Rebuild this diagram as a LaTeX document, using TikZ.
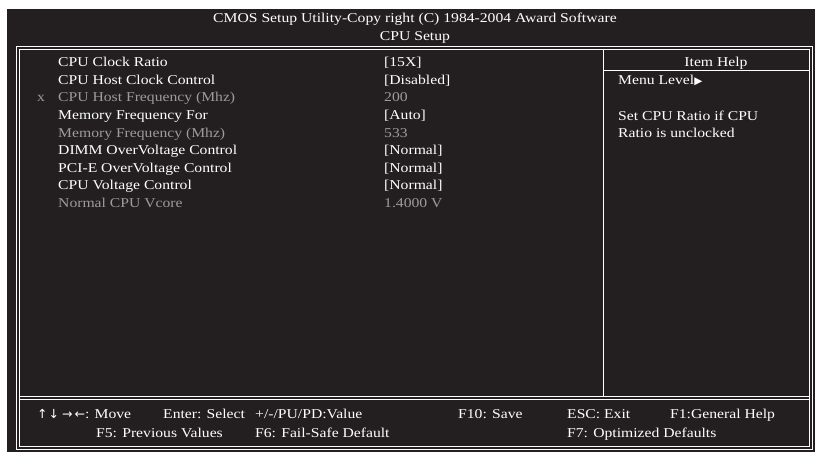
\documentclass[tikz,border=0pt]{standalone}
\usepackage{fontspec}
\setmainfont{Liberation Serif}[FakeStretch=1.16]
\newfontfamily\symfont{DejaVu Sans}
\usetikzlibrary{positioning}
\definecolor{screen}{HTML}{231F20}
\definecolor{dimtext}{HTML}{9C9C9C}

\begin{document}
\begin{tikzpicture}[
    x=1pt,y=-1pt,
    txt/.style={
      anchor=base west,
      inner sep=0pt,
      text=white,
      font=\fontsize{13.5}{16}\selectfont
      },
    dim/.style={
      txt,
      text=dimtext
      },
    ctr/.style={
      txt,
      anchor=base
      },
    rule/.style={
      draw=white,
      line width=1pt
      }
    ]
    \useasboundingbox (0,0) rectangle (815,452);
    \fill[screen] (7,9) rectangle (815,452);
    % title
    \node[ctr] (title) at (415,22.5) {CMOS Setup Utility-Copy right (C) 1984-2004 Award Software};
    \node[ctr] (subtitle) at (415,41) {CPU Setup};
    % frames
    \draw[rule] (16,46.5) rectangle (812.5,449.5);
    \draw[rule] (19,49.5) rectangle (809.5,446.5);
    \draw[rule] (19,396.7) -- (809.5,396.7);
    \draw[rule] (19,399.5) -- (809.5,399.5);
    \draw[rule] (603,49.5) -- (603,396.7);
    \draw[rule] (603,70.5) -- (809.5,70.5);
    % items
    \foreach \lab/\val/\st [count=\ri from 0] in {
      CPU Clock Ratio/{[15X]}/txt,
      CPU Host Clock Control/{[Disabled]}/txt,
      CPU Host Frequency (Mhz)/200/dim,
      Memory Frequency For/{[Auto]}/txt,
      Memory Frequency (Mhz)/533/dim,
      DIMM OverVoltage Control/{[Normal]}/txt,
      PCI-E OverVoltage Control/{[Normal]}/txt,
      CPU Voltage Control/{[Normal]}/txt,
      Normal CPU Vcore/1.4000 V/dim}
    {
      \node[\st] (item-\ri) at (58,{66.7+17.6*\ri}) {\lab};
      \node[\st] (val-\ri) at (384,{66.7+17.6*\ri}) {\val};
    }
    \node[dim] (mark) at (37,101.9) {x};
    % help
    \node[ctr] (help) at (716,66.7) {Item Help};
    \node[txt] (level) at (618,84.3) {Menu Level{\symfont\fontsize{10.5}{12}\selectfont▶}};
    \node[txt] (hint-1) at (618,120.5) {Set CPU Ratio if CPU};
    \node[txt] (hint-2) at (618,137.3) {Ratio is unclocked};
    % keys
    \node[txt] (k-move) at (37,418.7) {{\symfont\fontsize{12.5}{14}\selectfont↑\kern1pt↓\kern3pt→\kern2pt←}: Move};
    \node[txt] (k-enter) at (163,418.7) {Enter: Select};
    \node[txt] (k-value) at (255,418.7) {+/-/PU/PD:Value};
    \node[txt] (k-save) at (458,418.7) {F10: Save};
    \node[txt] (k-esc) at (567,418.7) {ESC: Exit};
    \node[txt] (k-help) at (670,418.7) {F1:General Help};
    \node[txt] (k-prev) at (96,437.3) {F5: Previous Values};
    \node[txt] (k-fail) at (255,437.3) {F6: Fail-Safe Default};
    \node[txt] (k-opt) at (567,437.3) {F7: Optimized Defaults};
\end{tikzpicture}
\end{document}
